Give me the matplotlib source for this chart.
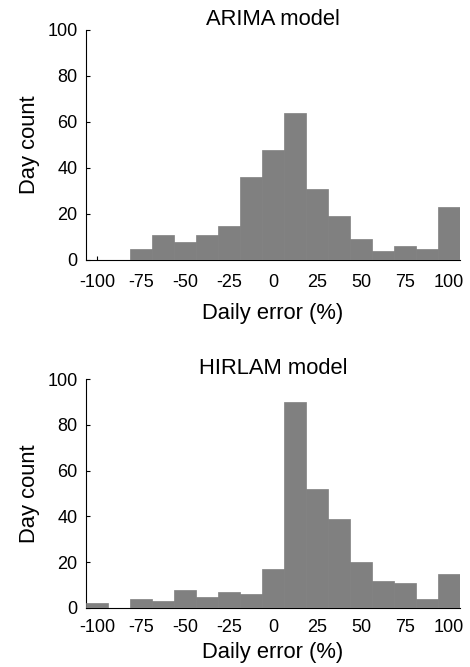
import numpy as np
import matplotlib
matplotlib.use('Agg')
import matplotlib.pyplot as plt

plt.rcParams['font.family'] = ['Liberation Sans', 'DejaVu Sans']
plt.rcParams['axes.unicode_minus'] = False

# bin centres of the daily error histogram (%)
bin_centres = np.arange(-100, 100.1, 12.5)
bin_width = 12.5

# day counts per bin
arima_counts = [0, 0, 5, 11, 8, 11, 15, 36, 48, 64, 31, 19, 9, 4, 6, 5, 23]
hirlam_counts = [2, 0, 4, 3, 8, 5, 7, 6, 17, 90, 52, 39, 20, 12, 11, 4, 15]

titles = ['ARIMA model', 'HIRLAM model']
xticks = [-100, -75, -50, -25, 0, 25, 50, 75, 100]
yticks = [0, 20, 40, 60, 80, 100]

fig = plt.figure(figsize=(4.7, 6.67), dpi=100)
W, H = 470, 667
# axes rectangles in pixels: left, top, right, bottom
boxes = [(86, 30, 460, 260), (86, 379, 460, 608)]
# tick label pad and x label pad for each panel
pads = [(10, 9), (8, 4)]

for counts, title, (l, t, r, b), (tpad, lpad) in zip(
        [arima_counts, hirlam_counts], titles, boxes, pads):
    ax = fig.add_axes([l / W, 1 - b / H, (r - l) / W, (b - t) / H])
    ax.bar(bin_centres, counts, width=bin_width, color='#808080',
           edgecolor='#808080', linewidth=0.5, zorder=3)
    ax.set_xlim(-106.25, 106.25)
    ax.set_ylim(0, 100)
    ax.set_xticks(xticks)
    ax.set_yticks(yticks)
    ax.spines['top'].set_visible(False)
    ax.spines['right'].set_visible(False)
    ax.spines['left'].set_linewidth(0.8)
    ax.spines['bottom'].set_linewidth(0.8)
    ax.tick_params(direction='in', length=3, width=0.8, labelsize=13)
    ax.tick_params(axis='x', pad=tpad)
    ax.tick_params(axis='y', pad=6)
    ax.set_title(title, fontsize=15.8, pad=1.5)
    ax.set_xlabel('Daily error (%)', fontsize=15.8, labelpad=lpad)
    ax.set_ylabel('Day count', fontsize=15.8, labelpad=5)

fig.savefig('out.png', dpi=100)
